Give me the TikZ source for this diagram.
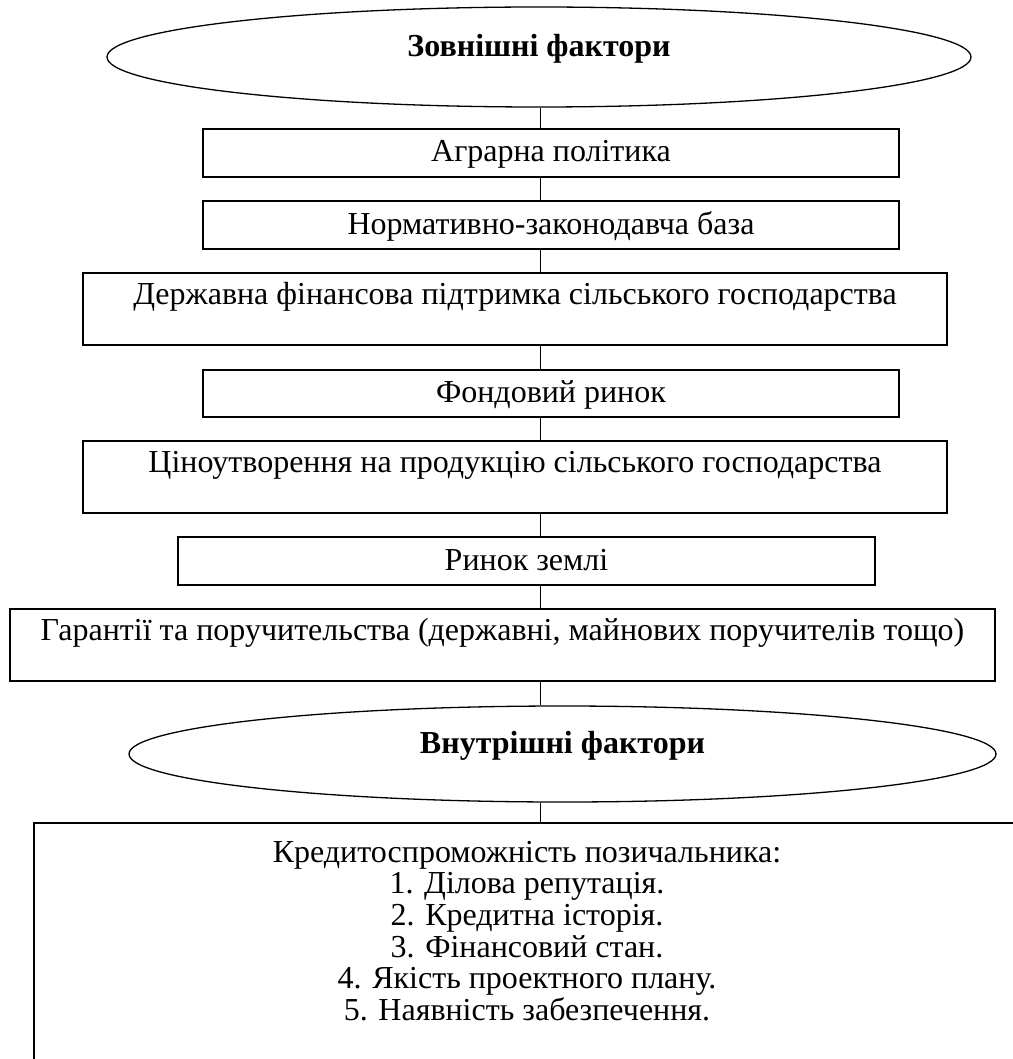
\documentclass[tikz,border=0pt]{standalone}
\usepackage{fontspec}
\setmainfont{Liberation Serif}
\usetikzlibrary{shapes.geometric}
\newcommand{\fs}{\fontsize{32pt}{31.7pt}\selectfont}
\begin{document}
\begin{tikzpicture}[x=1pt,y=-1pt,
  box/.style={draw, line width=1.6pt, rectangle, inner sep=0pt, text height=25pt, text depth=7pt, font=\fs},
  tallbox/.style={box, text depth=35pt},
  oval/.style={draw, ellipse, line width=1.3pt, inner sep=0pt, font=\fs\bfseries, text height=24pt, text depth=25pt},
  link/.style={line width=1pt}]
\useasboundingbox (0,0) rectangle (1012,1059);
\coordinate (axis) at (540,0);
\node[oval, minimum width=864pt, minimum height=100pt] (e1) at (539,57) {Зовнішні фактори};
\node[box, minimum width=696pt, minimum height=48pt] (b1) at (551,153) {Аграрна політика};
\node[box, minimum width=696pt, minimum height=48pt] (b2) at (551,225) {Нормативно-законодавча база};
\node[tallbox, minimum width=864pt, minimum height=72pt] (b3) at (515,309) {Державна фінансова підтримка сільського господарства};
\node[box, minimum width=696pt, minimum height=47pt] (b4) at (551,393.5) {Фондовий ринок};
\node[tallbox, minimum width=864pt, minimum height=72pt] (b5) at (515,477) {Ціноутворення на продукцію сільського господарства};
\node[box, minimum width=697pt, minimum height=48pt] (b6) at (526.5,561) {Ринок землі};
\node[tallbox, minimum width=985pt, minimum height=72pt] (b7) at (502.5,645) {Гарантії та поручительства (державні, майнових поручителів тощо)};
\node[oval, minimum width=867pt, minimum height=96pt] (e2) at (562.5,754) {Внутрішні фактори};
\node[draw, line width=1.6pt, rectangle, minimum width=991pt, minimum height=257pt] (b8) at (529.5,951.5) {};
\node[font=\fs, align=center, inner sep=0pt] (t8) at (527,931) {Кредитоспроможність позичальника:\\
1. Ділова репутація.\\
2. Кредитна історія.\\
3. Фінансовий стан.\\
4. Якість проектного плану.\\
5. Наявність забезпечення.};
\draw[link] (e1.south -| axis) -- (b1.north -| axis);
\draw[link] (b1.south -| axis) -- (b2.north -| axis);
\draw[link] (b2.south -| axis) -- (b3.north -| axis);
\draw[link] (b3.south -| axis) -- (b4.north -| axis);
\draw[link] (b4.south -| axis) -- (b5.north -| axis);
\draw[link] (b5.south -| axis) -- (b6.north -| axis);
\draw[link] (b6.south -| axis) -- (b7.north -| axis);
\draw[link] (b7.south -| axis) -- (e2.north -| axis);
\draw[link] (e2.south -| axis) -- (b8.north -| axis);
\end{tikzpicture}
\end{document}
